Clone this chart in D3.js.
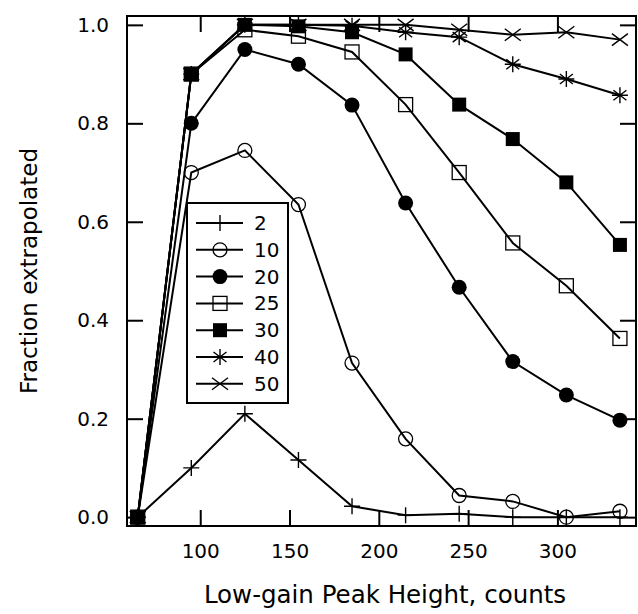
<!DOCTYPE html>
<html>
<head>
<meta charset="utf-8">
<script src="https://cdn.jsdelivr.net/npm/d3@7"></script>
<style>
  body { margin: 0; background: #fff; }
  text { font-family: "DejaVu Sans", sans-serif; fill: #000; }
</style>
</head>
<body>
<div id="chart"></div>
<script>
// peak heights (counts)
var peakHeights = [65, 95, 125, 155, 185, 215, 245, 275, 305, 335];

var seriesNames = ['2', '10', '20', '25', '30', '40', '50'];
var seriesMarkers = ['plus', 'circleOpen', 'circleFilled', 'squareOpen', 'squareFilled', 'star', 'cross'];

var frac2  = [0, 0.10, 0.21, 0.116, 0.022, 0.004, 0.007, 0.0, 0.0, 0.0];
var frac10 = [0, 0.70, 0.745, 0.635, 0.313, 0.159, 0.044, 0.032, 0.0, 0.012];
var frac20 = [0, 0.80, 0.95, 0.92, 0.837, 0.638, 0.467, 0.316, 0.248, 0.197];
var frac25 = [0, 0.90, 0.99, 0.977, 0.945, 0.838, 0.70, 0.557, 0.47, 0.363];
var frac30 = [0, 0.90, 1.0, 0.997, 0.985, 0.94, 0.838, 0.768, 0.68, 0.553];
var frac40 = [0, 0.90, 1.0, 1.0, 0.998, 0.985, 0.975, 0.92, 0.89, 0.857];
var frac50 = [0, 0.90, 1.0, 1.0, 1.0, 1.0, 0.99, 0.98, 0.985, 0.97];
var allFracs = [frac2, frac10, frac20, frac25, frac30, frac40, frac50];

var xTicks = [100, 150, 200, 250, 300];
var yTicks = [0, 0.2, 0.4, 0.6, 0.8, 1.0];

var svgWidth = 638;
var svgHeight = 614;
var margin = {top: 16, right: 2, bottom: 88, left: 127};
var width = svgWidth - margin.left - margin.right;
var height = svgHeight - margin.top - margin.bottom;

var svg = d3.select('#chart')
            .append('svg')
            .attr('width', svgWidth)
            .attr('height', svgHeight);

var chartGroup = svg.append('g')
                    .attr('transform', `translate(${margin.left}, ${margin.top})`);

var xScale = d3.scaleLinear()
               .domain([59, 344])
               .range([0, width]);

var yScale = d3.scaleLinear()
               .domain([-0.018, 1.018])
               .range([height, 0]);

// axes with inward ticks on all four sides
var tickLen = 16;
function styleAxis(g) {
    g.select('.domain').remove();
    g.selectAll('.tick line').attr('stroke', '#000').attr('stroke-width', 2);
    g.selectAll('.tick text').style('font-size', '20px');
}

chartGroup.append('g')
          .attr('transform', `translate(0, ${height})`)
          .call(d3.axisBottom(xScale).tickValues(xTicks).tickFormat(d3.format('d'))
                .tickSizeInner(-tickLen).tickSizeOuter(0).tickPadding(18))
          .call(styleAxis);

chartGroup.append('g')
          .call(d3.axisTop(xScale).tickValues(xTicks).tickFormat('')
                .tickSizeInner(-tickLen).tickSizeOuter(0))
          .call(styleAxis);

chartGroup.append('g')
          .call(d3.axisLeft(yScale).tickValues(yTicks).tickFormat(d3.format('.1f'))
                .tickSizeInner(-tickLen).tickSizeOuter(0).tickPadding(18))
          .call(styleAxis);

chartGroup.append('g')
          .attr('transform', `translate(${width}, 0)`)
          .call(d3.axisRight(yScale).tickValues(yTicks).tickFormat('')
                .tickSizeInner(-tickLen).tickSizeOuter(0))
          .call(styleAxis);

chartGroup.append('rect')
          .attr('x', 0)
          .attr('y', 0)
          .attr('width', width)
          .attr('height', height)
          .attr('fill', 'none')
          .attr('stroke', '#000')
          .attr('stroke-width', 2);

// marker shapes
var markerPaths = {
    plus: 'M-8,0H8M0,-8V8',
    star: 'M-8,0H8M0,-8V8M-6.5,-5L6.5,5M-6.5,5L6.5,-5',
    cross: 'M-8,-6L8,6M-8,6L8,-6'
};

function drawMarker(g, type) {
    if (type === 'circleOpen' || type === 'circleFilled') {
        g.append('circle')
         .attr('r', type === 'circleOpen' ? 7 : 7.5)
         .attr('fill', type === 'circleOpen' ? 'none' : '#000')
         .attr('stroke', '#000')
         .attr('stroke-width', type === 'circleOpen' ? 1.3 : 0);
    } else if (type === 'squareOpen' || type === 'squareFilled') {
        g.append('rect')
         .attr('x', -7).attr('y', -7)
         .attr('width', 14).attr('height', 14)
         .attr('fill', type === 'squareOpen' ? 'none' : '#000')
         .attr('stroke', '#000')
         .attr('stroke-width', type === 'squareOpen' ? 1.3 : 0);
    } else {
        g.append('path')
         .attr('d', markerPaths[type])
         .attr('fill', 'none')
         .attr('stroke', '#000')
         .attr('stroke-width', 1.4);
    }
}

var line = d3.line()
             .x(d => xScale(d.x))
             .y(d => yScale(d.y));

allFracs.forEach(function(fracs, i) {
    var pts = peakHeights.map((x, j) => ({x: x, y: fracs[j]}));

    chartGroup.append('path')
              .datum(pts)
              .attr('d', line)
              .attr('fill', 'none')
              .attr('stroke', '#000')
              .attr('stroke-width', 2);

    pts.forEach(function(p) {
        var g = chartGroup.append('g')
                          .attr('transform', `translate(${xScale(p.x)}, ${yScale(p.y)})`);
        drawMarker(g, seriesMarkers[i]);
    });
});

// legend
var legend = svg.append('g')
                .attr('transform', 'translate(187, 203)');

legend.append('rect')
      .attr('width', 101)
      .attr('height', 200)
      .attr('fill', '#fff')
      .attr('stroke', '#000')
      .attr('stroke-width', 2);

seriesNames.forEach(function(name, i) {
    var row = legend.append('g')
                    .attr('transform', `translate(0, ${20 + i * 26.8})`);
    row.append('line')
       .attr('x1', 9).attr('x2', 56)
       .attr('stroke', '#000')
       .attr('stroke-width', 2);
    var m = row.append('g').attr('transform', 'translate(33, 0)');
    drawMarker(m, seriesMarkers[i]);
    row.append('text')
       .attr('x', 67)
       .attr('y', 7)
       .style('font-size', '20px')
       .text(name);
});

// axis titles
svg.append('text')
   .attr('transform', `translate(37, ${margin.top + height / 2}) rotate(-90)`)
   .attr('text-anchor', 'middle')
   .style('font-size', '23px')
   .text('Fraction extrapolated');

svg.append('text')
   .attr('x', 385)
   .attr('y', 603)
   .attr('text-anchor', 'middle')
   .style('font-size', '24.5px')
   .text('Low-gain Peak Height, counts');
</script>
</body>
</html>
